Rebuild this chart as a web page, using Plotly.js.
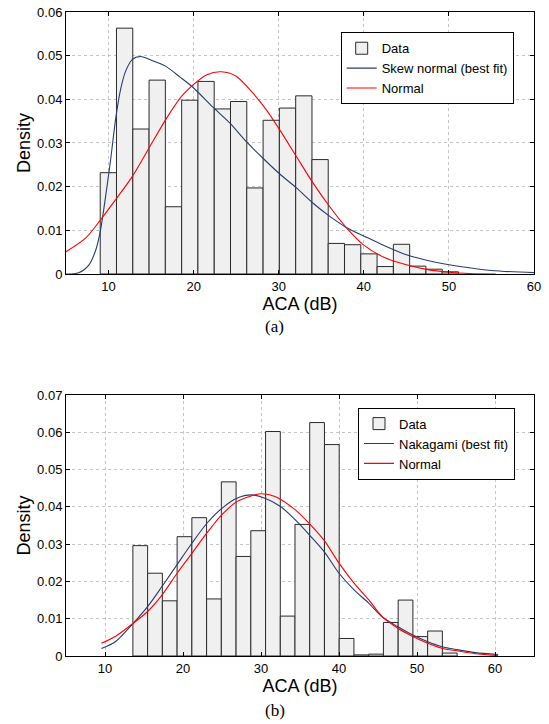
<!DOCTYPE html>
<html>
<head>
<meta charset="utf-8">
<script src="https://cdn.plot.ly/plotly-3.0.1.min.js"></script>
<style>html,body{margin:0;padding:0;background:#fff;}#chart{width:549px;height:724px;}</style>
</head>
<body>
<div id="chart"></div>
<script>
// ---------- Data: panel (a) ----------
const binCentersA = [9.98, 11.89, 13.81, 15.72, 17.63, 19.55, 21.46, 23.38, 25.29, 27.20, 29.12, 31.03,
                     32.95, 34.86, 36.77, 38.69, 40.60, 42.52, 44.43, 46.34, 48.26, 50.17];
const densityA = [0.0232, 0.0563, 0.0332, 0.0444, 0.0154, 0.0398, 0.0441, 0.0378, 0.0395, 0.0197, 0.0352, 0.0380,
                  0.0408, 0.0262, 0.0070, 0.0067, 0.0046, 0.0017, 0.0068, 0.0018, 0.0011, 0.0005];
const skewX = [5, 6.5, 7.7, 8.5, 9.06, 9.65, 10.24, 10.82, 11.41, 12.0, 12.78, 13.76, 15.1, 16.7, 18.4, 20.0,
               22.27, 24.24, 26.2, 28.15, 30.12, 32.08, 34.04, 36.0, 38.0, 40, 42.5, 45, 47.5, 50, 55, 60];
const skewY = [0, 0.0003, 0.0021, 0.0055, 0.0101, 0.0177, 0.0261, 0.0353, 0.0422, 0.0464, 0.0491, 0.0498, 0.0489,
               0.0476, 0.0451, 0.0426, 0.0382, 0.0346, 0.0303, 0.0265, 0.0229, 0.0197, 0.0162, 0.0132, 0.0106,
               0.0087, 0.0064, 0.0044, 0.0031, 0.0021, 0.0008, 0.0003];
const normAX = [5, 7.3, 9.06, 10.82, 12.78, 14.74, 16.7, 18.5, 19.92, 21.5, 23.26, 25.0, 26.98, 28.55, 30.12,
                32.08, 34.04, 36.0, 38.0, 40, 42.5, 45, 47.5, 50, 52.5, 55.5];
const normAY = [0.0051, 0.0082, 0.0124, 0.0170, 0.0223, 0.0288, 0.0353, 0.0405, 0.0433, 0.0456, 0.0463, 0.0453,
                0.0414, 0.0376, 0.0330, 0.0269, 0.0208, 0.0154, 0.0105, 0.0066, 0.0037, 0.0021, 0.0010, 0.0004,
                0.0001, 0.0];

// ---------- Data: panel (b) ----------
const binCentersB = [14.52, 16.41, 18.30, 20.19, 22.08, 23.97, 25.86, 27.75, 29.64, 31.53, 33.42, 35.30,
                     37.19, 39.08, 40.97, 42.86, 44.75, 46.64, 48.53, 50.42, 52.31, 54.20];
const densityB = [0.0296, 0.0222, 0.0148, 0.0320, 0.0371, 0.0153, 0.0467, 0.0267, 0.0336, 0.0602, 0.0107, 0.0353,
                  0.0626, 0.0567, 0.0047, 0.0003, 0.0005, 0.0090, 0.0150, 0.0052, 0.0067, 0.0008];
const nakX = [9.54, 11.37, 13.58, 15.49, 17.33, 19.24, 21.16, 23.07, 24.99, 26.9, 28.82, 30.5, 32.5, 34.4, 36.2,
              38.1, 40.0, 41.9, 43.8, 45.6, 47.5, 49.4, 51.3, 53.2, 55.1, 57.5, 60.4];
const nakY = [0.0020, 0.0039, 0.0087, 0.0133, 0.0187, 0.0245, 0.0303, 0.0356, 0.0396, 0.0423, 0.0432, 0.0423,
              0.0401, 0.0365, 0.0325, 0.0280, 0.0222, 0.0178, 0.0142, 0.0104, 0.0079, 0.0057, 0.0039, 0.0025,
              0.0017, 0.0009, 0.0004];
const normBX = [9.54, 11.37, 13.58, 15.49, 17.33, 19.24, 21.16, 23.07, 24.99, 26.9, 28.82, 30.1, 31.8, 34.4, 36.2,
                38.1, 40.0, 41.9, 43.8, 45.6, 47.5, 49.4, 51.3, 53.2, 55.1, 57.5, 60.4];
const normBY = [0.0034, 0.0053, 0.0087, 0.0120, 0.0164, 0.0222, 0.0276, 0.0330, 0.0379, 0.0414, 0.0430, 0.0435,
                0.0428, 0.0392, 0.0355, 0.0310, 0.0249, 0.0196, 0.0151, 0.0104, 0.0075, 0.0053, 0.0035, 0.0021,
                0.0014, 0.0006, 0.0001];

const xTicks = [10, 20, 30, 40, 50, 60];
const xTitle = 'ACA (dB)';
const yTitle = 'Density';

// ---------- Styles ----------
const FONT = '"Liberation Sans", Arial, Helvetica, sans-serif';
const barStyle = {color: '#f0f0f0', line: {color: '#2a2a2a', width: 1}};
const blue = '#283c6e';
const red = '#ff0000';

const traces = [
  {type: 'bar', x: binCentersA, y: densityA, width: 1.914, marker: barStyle, name: 'Data',
   xaxis: 'x', yaxis: 'y', legend: 'legend'},
  {type: 'scatter', mode: 'lines', x: skewX, y: skewY, line: {color: blue, width: 1.1, shape: 'spline', smoothing: 0.8},
   name: 'Skew normal (best fit)', xaxis: 'x', yaxis: 'y', legend: 'legend'},
  {type: 'scatter', mode: 'lines', x: normAX, y: normAY, line: {color: red, width: 1.1, shape: 'spline', smoothing: 0.8},
   name: 'Normal', xaxis: 'x', yaxis: 'y', legend: 'legend'},
  {type: 'bar', x: binCentersB, y: densityB, width: 1.889, marker: barStyle, name: 'Data',
   xaxis: 'x2', yaxis: 'y2', legend: 'legend2'},
  {type: 'scatter', mode: 'lines', x: nakX, y: nakY, line: {color: blue, width: 1.1, shape: 'spline', smoothing: 0.8},
   name: 'Nakagami (best fit)', xaxis: 'x2', yaxis: 'y2', legend: 'legend2'},
  {type: 'scatter', mode: 'lines', x: normBX, y: normBY, line: {color: red, width: 1.1, shape: 'spline', smoothing: 0.8},
   name: 'Normal', xaxis: 'x2', yaxis: 'y2', legend: 'legend2'}
];

function xAxis(range, anchor) {
  return {range: range, anchor: anchor, tickvals: xTicks, ticks: 'inside', ticklen: 4, tickcolor: '#000',
    showline: true, mirror: 'ticks', linecolor: '#000', linewidth: 1, zeroline: false,
    showgrid: true, gridcolor: '#c4c4c4', griddash: 'dot', gridwidth: 1,
    tickfont: {family: FONT, size: 13, color: '#000'},
    title: {text: xTitle, font: {family: FONT, size: 18, color: '#000'}, standoff: 0}};
}
function yAxis(range, domain, anchor) {
  return {range: range, domain: domain, anchor: anchor, dtick: 0.01, ticks: 'inside', ticklen: 4, tickcolor: '#000',
    showline: true, mirror: 'ticks', linecolor: '#000', linewidth: 1, zeroline: false,
    showgrid: true, gridcolor: '#c4c4c4', griddash: 'dot', gridwidth: 1,
    tickfont: {family: FONT, size: 13, color: '#000'},
    title: {text: yTitle, font: {family: FONT, size: 18, color: '#000'}, standoff: 1}};
}
function legendBox(x, y) {
  return {x: x, y: y, xanchor: 'right', yanchor: 'top', bgcolor: '#fff', bordercolor: '#000', borderwidth: 1,
    font: {family: FONT, size: 13, color: '#000'}, itemwidth: 30, tracegroupgap: 0, traceorder: 'normal'};
}

const layout = {
  width: 549, height: 724,
  margin: {l: 66, r: 15, t: 12, b: 68},
  paper_bgcolor: '#fff', plot_bgcolor: '#fff',
  showlegend: true,
  barmode: 'overlay',
  xaxis: xAxis([5, 60], 'y'),
  yaxis: yAxis([0, 0.06], [0.5932, 1], 'x'),
  xaxis2: xAxis([5, 65], 'y2'),
  yaxis2: yAxis([0, 0.07], [0, 0.4053], 'x2'),
  legend: legendBox(0.9566, 0.9685),
  legend2: legendBox(0.9594, 0.3856),
  annotations: [
    {text: '(a)', xref: 'paper', yref: 'paper', x: 0.446, y: 0.5109, xanchor: 'center', yanchor: 'middle',
     showarrow: false, font: {family: '"Liberation Serif", "Times New Roman", serif', size: 17, color: '#000'}},
    {text: '(b)', xref: 'paper', yref: 'paper', x: 0.446, y: -0.0854, xanchor: 'center', yanchor: 'middle',
     showarrow: false, font: {family: '"Liberation Serif", "Times New Roman", serif', size: 17, color: '#000'}}
  ]
};

Plotly.newPlot('chart', traces, layout, {displayModeBar: false, staticPlot: true});
</script>
</body>
</html>
